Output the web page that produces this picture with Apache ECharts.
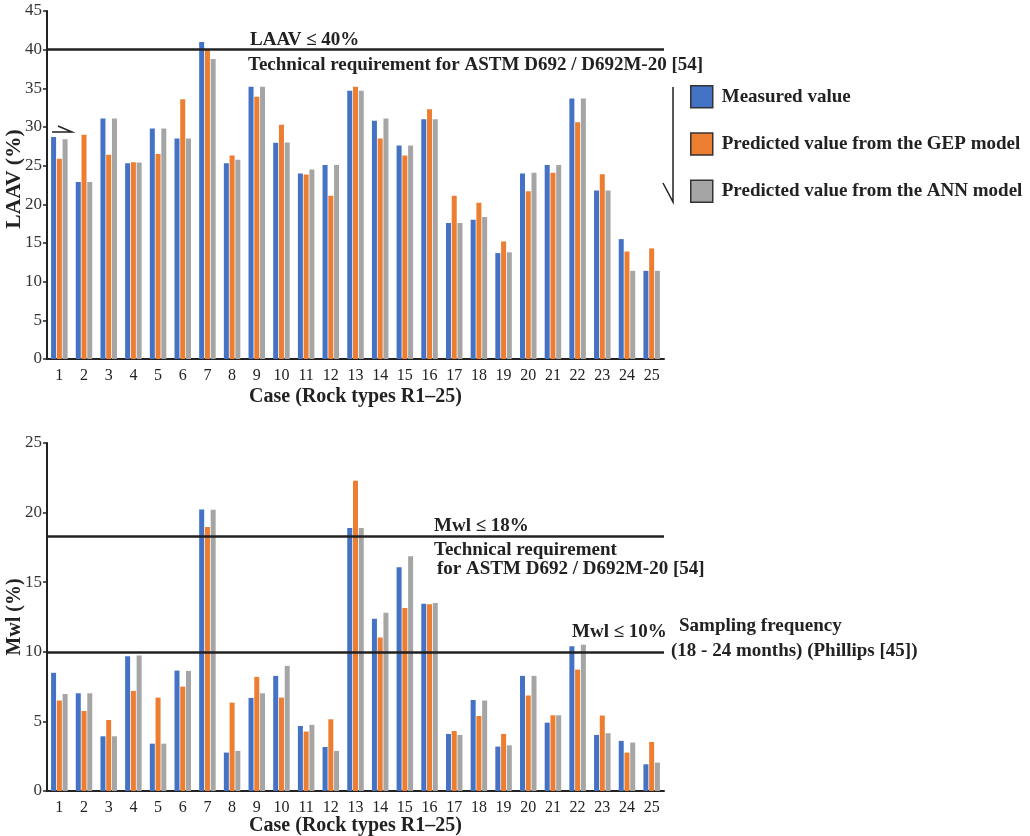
<!DOCTYPE html>
<html><head><meta charset="utf-8">
<script src="https://cdn.jsdelivr.net/npm/echarts@6/dist/echarts.min.js"></script>
<style>html,body{margin:0;padding:0;background:#fff}#c{width:1030px;height:836px}</style>
</head><body><div id="c"></div>
<script>
const categories = ['1','2','3','4','5','6','7','8','9','10','11','12','13','14','15','16','17','18','19','20','21','22','23','24','25'];
const seriesNames = ['Measured value','Predicted value from the GEP model','Predicted value from the ANN model'];
const colors = ['#4472C4','#ED7D31','#A5A5A5'];

const laavMeasured = [28.7,22.9,31.1,25.3,29.8,28.5,41.0,25.3,35.2,27.95,24.0,25.1,34.7,30.8,27.6,31.0,17.6,18.0,13.7,24.0,25.1,33.7,21.8,15.5,11.4];
const laavGEP      = [25.9,29.0,26.4,25.45,26.5,33.6,40.1,26.3,33.9,30.3,23.85,21.1,35.2,28.5,26.3,32.3,21.1,20.2,15.2,21.7,24.1,30.6,23.9,13.9,14.3];
const laavANN      = [28.4,22.9,31.1,25.4,29.8,28.5,38.8,25.75,35.2,28.0,24.5,25.1,34.7,31.1,27.6,31.0,17.6,18.35,13.8,24.1,25.1,33.7,21.8,11.4,11.4];

const mwlMeasured = [8.49,7.02,3.93,9.68,3.4,8.65,20.23,2.76,6.69,8.27,4.67,3.16,18.89,12.37,16.08,13.45,4.1,6.54,3.19,8.27,4.91,10.4,4.03,3.6,1.92];
const mwlGEP      = [6.5,5.75,5.1,7.19,6.71,7.5,18.96,6.35,8.2,6.71,4.27,5.15,22.29,11.03,13.14,13.42,4.31,5.39,4.1,6.86,5.44,8.72,5.42,2.76,3.52];
const mwlANN      = [6.97,7.02,3.93,9.73,3.4,8.63,20.2,2.88,7.02,8.99,4.75,2.88,18.89,12.8,16.87,13.5,4.03,6.5,3.28,8.27,5.44,10.5,4.15,3.48,2.04];

const laavTicks = {min:0,max:45,interval:5};
const mwlTicks = {min:0,max:25,interval:5};
const laavLimit = [40];
const mwlLimits = [18.3, 10];

const serif = '"Liberation Serif","DejaVu Serif",serif';
const txt = '#222';

function mkBar(name, data, idx, color, limits){
  const s = {
    name, type:'bar', data, xAxisIndex:idx, yAxisIndex:idx,
    barWidth:5, barGap:'15%', itemStyle:{color}, animation:false
  };
  if (limits) {
    s.markLine = {
      silent:true, symbol:'none', animation:false,
      label:{show:false},
      lineStyle:{color:'#222', width:2.5, type:'solid'},
      data: limits.map(v=>({yAxis:v}))
    };
  }
  return s;
}

function xAx(idx, gap){
  return {
    type:'category', gridIndex:idx, data:categories,
    axisLine:{lineStyle:{color:'#222', width:2}},
    axisTick:{show:false},
    axisLabel:{fontFamily:serif, fontSize:16, color:txt, margin:9},
    name:'Case (Rock types R1\u201325)', nameLocation:'middle', nameGap:gap, nameMoveOverlap:false,
    nameTextStyle:{fontFamily:serif, fontSize:20, fontWeight:'bold', color:txt}
  };
}
function yAx(idx, ticks, name, fs, pad){
  return {
    type:'value', gridIndex:idx, min:ticks.min, max:ticks.max, interval:ticks.interval,
    splitLine:{show:false},
    axisLine:{show:true, lineStyle:{color:'#222', width:2}},
    axisTick:{show:true, length:4, lineStyle:{color:'#222', width:1.5}},
    axisLabel:{fontFamily:serif, fontSize:17, color:'#333', margin:5},
    name, nameLocation:'middle', nameGap:22, nameMoveOverlap:false,
    nameTextStyle:{fontFamily:serif, fontSize:fs, fontWeight:'bold', color:txt, padding:pad}
  };
}

const ann = (x,y,text)=>({type:'text', x:x, y:y, style:{text, font:'bold 19px '+serif, fill:txt, verticalAlign:'middle', align:'left'}});

const chart = echarts.init(document.getElementById('c'));
chart.setOption({
  backgroundColor:'#fff',
  animation:false,
  grid:[
    {left:47, right:366, top:11, bottom:477, containLabel:false, outerBoundsMode:'none'},
    {left:47, right:366, top:443, bottom:45, containLabel:false, outerBoundsMode:'none'}
  ],
  xAxis:[xAx(0,28), xAx(1,25)],
  yAxis:[yAx(0,laavTicks,'LAAV (%)',21.5,[0,0,0,12]), yAx(1,mwlTicks,'Mwl (%)',20,[0,0,0,0])],
  legend:{
    orient:'vertical', left:685, top:80, itemWidth:22, itemHeight:22, itemGap:23.8,
    icon:'rect', data:seriesNames,
    itemStyle:{borderColor:'#333', borderWidth:1.5},
    textStyle:{fontFamily:serif, fontSize:19, fontWeight:'bold', color:txt, padding:[0,0,0,4]}
  },
  series:[
    mkBar(seriesNames[0], laavMeasured, 0, colors[0], laavLimit),
    mkBar(seriesNames[1], laavGEP, 0, colors[1]),
    mkBar(seriesNames[2], laavANN, 0, colors[2]),
    mkBar(seriesNames[0], mwlMeasured, 1, colors[0], mwlLimits),
    mkBar(seriesNames[1], mwlGEP, 1, colors[1]),
    mkBar(seriesNames[2], mwlANN, 1, colors[2])
  ],
  graphic:[
    ann(250,40,'LAAV \u2264 40%'),
    ann(248,65,'Technical requirement for ASTM D692 / D692M-20 [54]'),
    ann(434,526,'Mwl \u2264 18%'),
    ann(434,550,'Technical requirement'),
    ann(437,569,'for ASTM D692 / D692M-20 [54]'),
    ann(572,632,'Mwl \u2264 10%'),
    ann(679,626,'Sampling frequency'),
    ann(671,651,'(18 - 24 months) (Phillips [45])'),
    {type:'polyline', shape:{points:[[673,87],[673,202],[663,183]]}, style:{stroke:'#222', lineWidth:1.5, fill:null}},
    {type:'polyline', shape:{points:[[52,132],[72,132],[58,126]]}, style:{stroke:'#222', lineWidth:1.5, fill:null}}
  ]
});
</script></body></html>
